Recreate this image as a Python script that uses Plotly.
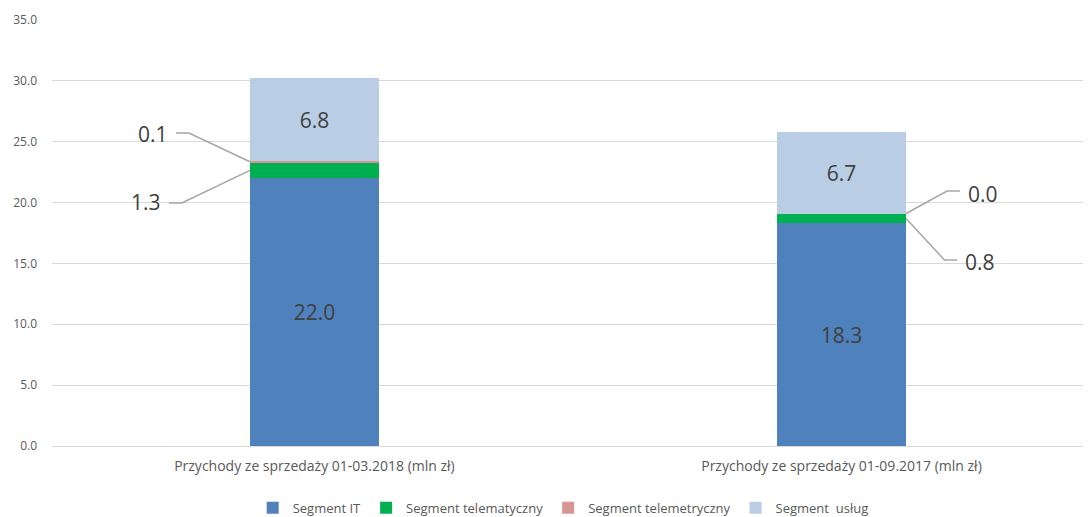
import plotly.graph_objects as go

categories = ["Przychody ze sprzedaży 01-03.2018 (mln zł)", "Przychody ze sprzedaży 01-09.2017 (mln zł)"]
series_names = ["Segment IT", "Segment telematyczny", "Segment telemetryczny", "Segment  usług"]
seg_it = [22.0, 18.3]
seg_telematyczny = [1.3, 0.8]
seg_telemetryczny = [0.1, 0.0]
seg_uslug = [6.8, 6.7]
y_ticks = [0, 5, 10, 15, 20, 25, 30, 35]

colors = ["#4f81bd", "#00b050", "#d99594", "#b9cde5"]
series = [seg_it, seg_telematyczny, seg_telemetryczny, seg_uslug]
show_inside = [True, False, False, True]

x_pos = list(range(len(categories)))
bar_w = 0.245
label_font = dict(family="Open Sans", size=21, color="#404040")

fig = go.Figure()
for name, vals, col, ins in zip(series_names, series, colors, show_inside):
    fig.add_trace(go.Bar(
        x=x_pos, y=vals, name=name, width=bar_w,
        marker=dict(color=col, line=dict(width=0)),
        text=[f"{v:.1f}" for v in vals] if ins else None,
        textposition="inside" if ins else "none",
        insidetextanchor="middle",
        textfont=label_font,
        hoverinfo="skip",
    ))

# outside labels with leader lines: (category index, series index, side, text dx, text y, elbow y)
callouts = [
    (0, 2, -1, 0.3055, 25.62, 25.72),
    (0, 1, -1, 0.319, 20.04, 19.97),
    (1, 2, 1, 0.2676, 20.73, 20.95),
    (1, 1, 1, 0.2628, 15.15, 15.28),
]
annotations = []
shapes = []
for ci, si, side, dx, ty, ey in callouts:
    base = sum(series[k][ci] for k in range(si))
    val = series[si][ci]
    anchor_y = base + val / 2
    edge_x = x_pos[ci] + side * bar_w / 2
    text_x = x_pos[ci] + side * dx
    elbow_in = text_x - side * 0.0674
    elbow_out = text_x - side * 0.0427
    annotations.append(dict(x=text_x, y=ty, xref="x", yref="y", text=f"{val:.1f}",
                            showarrow=False, font=label_font))
    shapes.append(dict(type="path", xref="x", yref="y",
                       path=f"M {edge_x} {anchor_y} L {elbow_in} {ey} L {elbow_out} {ey}",
                       line=dict(color="#a6a6a6", width=1.5)))

fig.update_layout(
    barmode="stack",
    width=1083, height=509,
    margin=dict(l=44, r=0, t=12, b=71, autoexpand=False),
    paper_bgcolor="white", plot_bgcolor="white",
    font=dict(family="Open Sans", color="#595959", size=12),
    xaxis=dict(range=[-0.498, 1.4734], tickvals=x_pos, ticktext=categories,
               showgrid=False, showline=True, linecolor="#d9d9d9", linewidth=1,
               ticks="", tickfont=dict(size=14, color="#595959"), zeroline=False,
               automargin=False, ticklabelstandoff=7),
    yaxis=dict(range=[0, 35], tickvals=y_ticks, tickformat=".1f",
               showgrid=True, gridcolor="#d9d9d9", gridwidth=1, zeroline=False,
               showline=False, ticks="", ticklabelstandoff=14, automargin=False,
               tickfont=dict(size=12, color="#595959")),
    legend=dict(orientation="h", x=0.492, xanchor="center", y=-0.145, yanchor="middle",
                font=dict(size=13, color="#595959"), itemwidth=30, traceorder="normal"),
    bargap=0,
    annotations=annotations,
    shapes=shapes,
    showlegend=True,
)

fig.write_html("out.html")
